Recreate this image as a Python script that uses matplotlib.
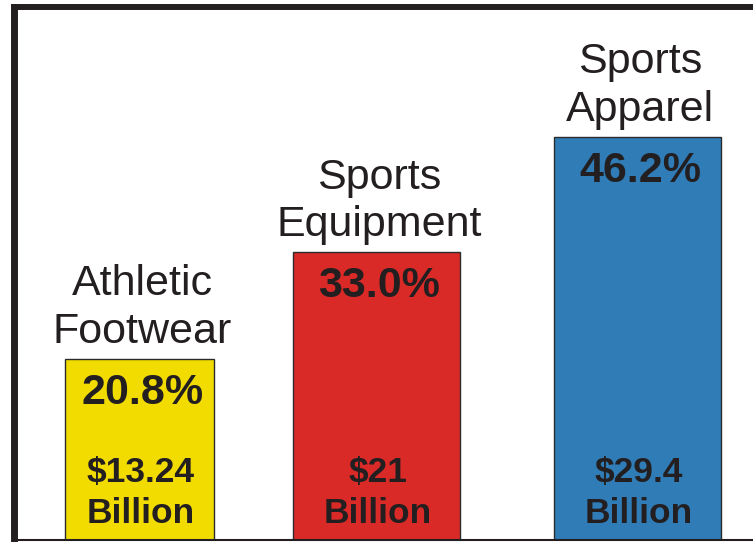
import matplotlib
matplotlib.use("Agg")
import matplotlib.pyplot as plt

# Market share of sporting goods segments
categories = ["Athletic\nFootwear", "Sports\nEquipment", "Sports\nApparel"]
share_pct = [20.8, 33.0, 46.2]
sales_billion = ["13.24", "21", "29.4"]

# Layout (horizontal positions/widths in pixel-like units of the x axis)
bar_centers = [139.5, 376.5, 637.5]
bar_widths = [149, 167, 167]
bar_colors = ["#F2DC00", "#DA2A27", "#2F7CB7"]
text_color = "#231F20"
frame_color = "#231F20"

W, H, DPI = 753, 542, 100
px_per_unit = 8.72  # vertical pixels per percentage point

fig = plt.figure(figsize=(W / DPI, H / DPI), dpi=DPI)
fig.patch.set_facecolor("white")

left_px, bottom_px, top_px, right_px = 13.5, 2.0, 7.0, 760.0
ax = fig.add_axes([left_px / W, bottom_px / H,
                   (right_px - left_px) / W, (H - top_px - bottom_px) / H])
ax.set_xlim(left_px, right_px)
ax.set_ylim(0, (H - top_px - bottom_px) / px_per_unit)
ax.set_facecolor("white")

for side, lw in (("left", 5.0), ("top", 4.3), ("bottom", 1.5)):
    ax.spines[side].set_linewidth(lw)
    ax.spines[side].set_color(frame_color)
ax.spines["right"].set_visible(False)
ax.set_xticks([])
ax.set_yticks([])

bars = ax.bar(bar_centers, share_pct, width=bar_widths, color=bar_colors,
              edgecolor="#2b2b2b", linewidth=1.0, zorder=2)

font = "Liberation Sans"
for x, pct, cat, amt in zip(bar_centers, share_pct, categories, sales_billion):
    # Category name above the bar
    ax.annotate(cat, xy=(x, pct), xytext=(2, 5), textcoords="offset points",
                ha="center", va="bottom", fontsize=31, family=font,
                color=text_color, linespacing=1.25, zorder=3)
    # Share inside the top of the bar
    ax.annotate(f"{pct:.1f}%", xy=(x, pct), xytext=(2, -10),
                textcoords="offset points", ha="center", va="top",
                fontsize=31, fontweight="bold", family=font,
                color=text_color, zorder=3)
    # Sales value at the bottom of the bar
    ax.annotate(f"${amt}\nBillion", xy=(x, 0), xytext=(1, 7),
                textcoords="offset points", ha="center", va="bottom",
                fontsize=25.5, fontweight="bold", family=font,
                color=text_color, linespacing=1.3, zorder=3)

fig.savefig("out.png", dpi=DPI, facecolor="white")
